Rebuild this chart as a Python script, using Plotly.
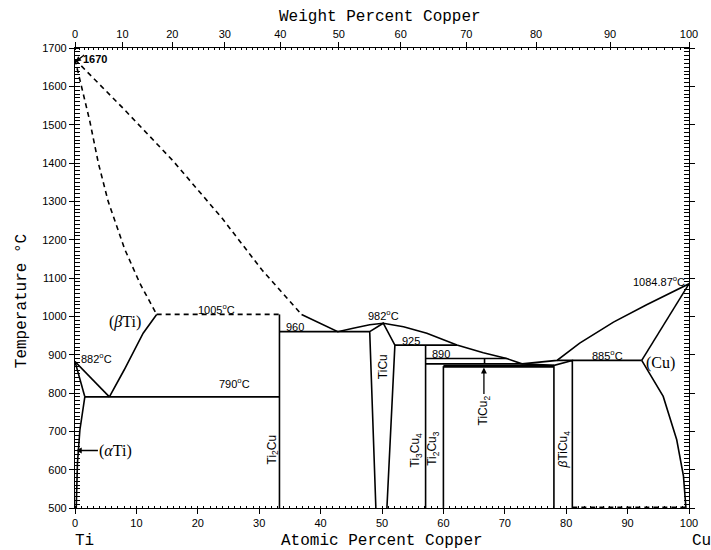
import numpy as np
import plotly.graph_objects as go

# Ti-Cu phase diagram (atomic percent Cu vs temperature, deg C)
M_TI, M_CU = 47.867, 63.546

# --- phase boundaries: (at.% Cu, T) ---------------------------------------
liquidus_ti_x = [0, 8, 16, 24, 30.5, 36.9]
liquidus_ti_t = [1670, 1540, 1405, 1255, 1120, 1005]

solidus_bti_x = [0, 1.2, 2.4, 3.8, 5.4, 8.1, 10.6, 13.3]
solidus_bti_t = [1670, 1590, 1510, 1400, 1300, 1175, 1085, 1005]

peritectic_1005_x = [13.3, 33.3]
peritectic_1005_t = [1005, 1005]

beta_transus_x = [0, 5.6]
beta_transus_t = [882, 790]

beta_solvus_x = [5.6, 8.0, 11.1, 13.3]
beta_solvus_t = [790, 860, 956, 1005]

alpha_transus_x = [0, 1.6]
alpha_transus_t = [882, 790]

alpha_solvus_x = [1.6, 0.8, 0.4, 0.2]
alpha_solvus_t = [790, 704, 618, 500]

eutectoid_790_x = [1.6, 33.3]
eutectoid_790_t = [790, 790]

ti2cu_x = [33.3, 33.3]
ti2cu_t = [1005, 500]

liquidus_mid_x = [36.9, 42.8, 45.3, 48.0, 50.2, 53.5, 57.3, 62.2, 66.5, 70.3, 72.8]
liquidus_mid_t = [1005, 960, 969, 978, 982, 973, 956, 925, 905, 890, 876]

eutectic_960_x = [33.3, 48.0]
eutectic_960_t = [960, 960]

ticu_x = [49.0, 48.0, 50.2, 52.1, 50.8]
ticu_t = [500, 960, 982, 925, 500]

peritectic_925_x = [52.1, 62.2]
peritectic_925_t = [925, 925]

ti3cu4_x = [57.1, 57.1]
ti3cu4_t = [925, 500]

peritectic_890_x = [57.1, 70.3]
peritectic_890_t = [890, 890]

line_876_x = [57.1, 72.8]
line_876_t = [876, 876]

eutectic_870_x = [60.0, 78.0]
eutectic_870_t = [870, 870]

ticu2_x = [66.7, 66.7]
ticu2_t = [876, 890]

ti2cu3_x = [60.0, 60.0]
ti2cu3_t = [870, 500]

lens_x = [72.8, 78.0]
lens_t = [876, 872]

bticu4_x = [78.0, 78.0, 81.0, 81.0]
bticu4_t = [500, 872, 885, 500]

liquidus_cu_x = [72.8, 75.5, 78.5, 82.2, 87.7, 93.1, 97.0, 100]
liquidus_cu_t = [876, 880, 885, 930, 985, 1030, 1060, 1084.87]

peritectic_885_x = [78.5, 92.3]
peritectic_885_t = [885, 885]

solidus_cu_x = [92.3, 100]
solidus_cu_t = [885, 1084.87]

solvus_cu_x = [92.3, 95.8, 98.0, 99.1, 99.5]
solvus_cu_t = [885, 791, 678, 583, 500]

base_dashed_x = [81.0, 99.5]
base_dashed_t = [502, 502]

# weight-percent scale along the top
wt_major = list(range(0, 101, 10))
wt_mid = list(range(5, 100, 10))
wt_minor = list(range(0, 101, 1))


def wt_to_at(w):
    w = np.asarray(w, dtype=float)
    n_cu = w / M_CU
    n_ti = (100 - w) / M_TI
    return 100 * n_cu / (n_cu + n_ti)


fig = go.Figure()

solid = [
    (beta_transus_x, beta_transus_t), (beta_solvus_x, beta_solvus_t),
    (alpha_transus_x, alpha_transus_t), (alpha_solvus_x, alpha_solvus_t),
    (eutectoid_790_x, eutectoid_790_t), (ti2cu_x, ti2cu_t),
    (liquidus_mid_x, liquidus_mid_t), (eutectic_960_x, eutectic_960_t),
    (ticu_x, ticu_t), (peritectic_925_x, peritectic_925_t),
    (ti3cu4_x, ti3cu4_t), (peritectic_890_x, peritectic_890_t),
    (line_876_x, line_876_t), (ticu2_x, ticu2_t), (ti2cu3_x, ti2cu3_t),
    (lens_x, lens_t), (bticu4_x, bticu4_t), (liquidus_cu_x, liquidus_cu_t),
    (peritectic_885_x, peritectic_885_t), (solidus_cu_x, solidus_cu_t),
    (solvus_cu_x, solvus_cu_t),
]
dashed = [
    (liquidus_ti_x, liquidus_ti_t), (solidus_bti_x, solidus_bti_t),
    (peritectic_1005_x, peritectic_1005_t), (base_dashed_x, base_dashed_t),
]

for xs, ts in solid:
    fig.add_trace(go.Scatter(x=xs, y=ts, mode="lines",
                             line=dict(color="black", width=1.6),
                             hoverinfo="skip", showlegend=False))
for xs, ts in dashed:
    fig.add_trace(go.Scatter(x=xs, y=ts, mode="lines",
                             line=dict(color="black", width=1.6, dash="5px,4px"),
                             hoverinfo="skip", showlegend=False))
fig.add_trace(go.Scatter(x=eutectic_870_x, y=eutectic_870_t, mode="lines",
                         line=dict(color="black", width=3),
                         hoverinfo="skip", showlegend=False))
# anchor trace for the weight-percent axis
fig.add_trace(go.Scatter(x=[0, 100], y=[500, 500], xaxis="x2", mode="lines",
                         line=dict(width=0), hoverinfo="skip", showlegend=False))

tick_font = dict(family="Liberation Sans", size=11, color="black")
lab_font = dict(family="Liberation Sans", size=12, color="black")
num_font = dict(family="Liberation Sans", size=11, color="black")
serif_font = dict(family="Liberation Serif", size=16, color="black")
title_font = dict(family="Liberation Mono", size=16, color="black")

ann = []


def txt(x, y, s, font, **kw):
    d = dict(x=x, y=y, text=s, showarrow=False, font=font, xref="x", yref="y",
             xanchor="center", yanchor="middle")
    d.update(kw)
    ann.append(d)


txt(3.2, 1672, "<b>1670</b>", num_font)
ann.append(dict(x=0.1, y=1664, xref="x", yref="y", text="", showarrow=True,
                ax=10, ay=-8, arrowhead=2, arrowsize=0.9, arrowwidth=1.2,
                arrowcolor="black"))
txt(8.2, 985, "(<i>β</i>Ti)", serif_font)
txt(0.6, 892, "882<sup>o</sup>C", num_font, xanchor="left")
txt(26.0, 826, "790<sup>o</sup>C", num_font)
txt(23.0, 1019, "1005<sup>o</sup>C", num_font)
txt(35.8, 971, "960", num_font)
txt(50.3, 1003, "982<sup>o</sup>C", num_font)
txt(54.8, 936, "925", num_font)
txt(59.6, 901, "890", num_font)
txt(86.8, 898, "885<sup>o</sup>C", num_font)
txt(99.7, 1091, "1084.87<sup>o</sup>C", num_font, xanchor="right")
txt(95.4, 878, "(Cu)", serif_font)
ann.append(dict(x=0.15, y=650, xref="x", yref="y", text="(<i>α</i>Ti)",
                font=serif_font, showarrow=True, ax=40, ay=0, arrowhead=2,
                arrowsize=0.9, arrowwidth=1.3, arrowcolor="black", standoff=0))
txt(50.1, 869, "TiCu", lab_font, textangle=-90)
txt(32.2, 652, "Ti<sub>2</sub>Cu", lab_font, textangle=-90)
txt(55.5, 652, "Ti<sub>3</sub>Cu<sub>4</sub>", lab_font, textangle=-90)
txt(58.3, 657, "Ti<sub>2</sub>Cu<sub>3</sub>", lab_font, textangle=-90)
txt(79.6, 652, "<i>β</i>TiCu<sub>4</sub>", lab_font, textangle=-90)
ann.append(dict(x=66.6, y=869, xref="x", yref="y", text="TiCu<sub>2</sub>",
                font=lab_font, textangle=-90, showarrow=True, ax=0, ay=44,
                arrowhead=2, arrowsize=0.9, arrowwidth=1.3, arrowcolor="black",
                standoff=1))

# axis titles and end-member labels
ann += [
    dict(x=0.497, y=1.067, text="Weight Percent Copper", font=title_font),
    dict(x=0.5, y=-0.072, text="Atomic Percent Copper", font=title_font),
    dict(x=0.016, y=-0.072, text="Ti", font=title_font),
    dict(x=1.02, y=-0.072, text="Cu", font=title_font),
    dict(x=-0.086, y=0.45, text="Temperature °C", font=title_font, textangle=-90),
]
for a in ann[-5:]:
    a.update(xref="paper", yref="paper", showarrow=False,
             xanchor="center", yanchor="middle")

top_vals = list(wt_to_at(wt_major)) + list(wt_to_at(wt_mid))
top_text = [str(w) for w in wt_major] + [""] * len(wt_mid)

fig.update_layout(
    width=711, height=550,
    margin=dict(l=75, r=22, t=48, b=42),
    paper_bgcolor="white", plot_bgcolor="white",
    annotations=ann,
    xaxis=dict(range=[0, 100], tick0=0, dtick=10, ticks="outside", ticklen=5,
               tickcolor="black", tickfont=tick_font, showline=True,
               linecolor="black", linewidth=1.2, showgrid=False, zeroline=False,
               minor=dict(dtick=1, ticks="inside", ticklen=2, tickcolor="black",
                          showgrid=False)),
    xaxis2=dict(range=[0, 100], overlaying="x", side="top", tickmode="array",
                tickvals=top_vals, ticktext=top_text, ticks="outside", ticklen=5,
                tickcolor="black", tickfont=tick_font, showline=True,
                linecolor="black", linewidth=1.2, showgrid=False, zeroline=False,
                minor=dict(tickmode="array", tickvals=list(wt_to_at(wt_minor)),
                           ticks="inside", ticklen=2, tickcolor="black",
                           showgrid=False)),
    yaxis=dict(range=[500, 1700], tick0=500, dtick=100, ticks="outside", ticklen=5,
               tickcolor="black", tickfont=tick_font, showline=True,
               linecolor="black", linewidth=1.2, mirror="allticks",
               showgrid=False, zeroline=False,
               minor=dict(dtick=10, ticks="inside", ticklen=3, tickcolor="black",
                          showgrid=False)),
)

fig.write_html("out.html")
